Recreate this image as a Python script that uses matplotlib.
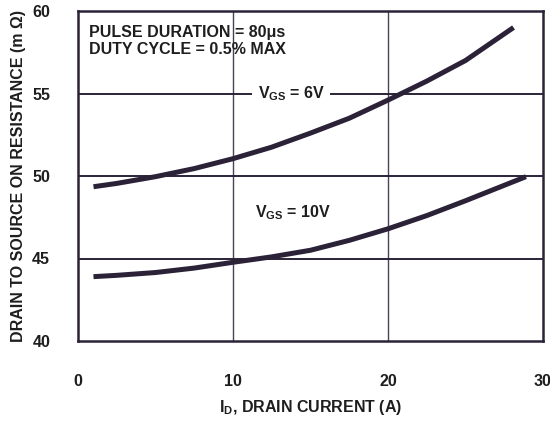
import matplotlib
matplotlib.use('Agg')
import matplotlib.pyplot as plt

plt.rcParams['font.family'] = ['Liberation Sans', 'DejaVu Sans']
plt.rcParams['font.weight'] = 'bold'
plt.rcParams['axes.labelweight'] = 'bold'
plt.rcParams['mathtext.fontset'] = 'custom'
plt.rcParams['mathtext.bf'] = 'Liberation Sans:bold'
plt.rcParams['mathtext.rm'] = 'Liberation Sans:bold'
plt.rcParams['mathtext.default'] = 'bf'

# drain current (A) and rds(on) (mOhm)
id_6v = [1, 2.5, 5, 7.5, 10, 12.5, 15, 17.5, 20, 22.5, 25, 28.1]
rds_6v = [49.35, 49.55, 49.96, 50.45, 51.05, 51.75, 52.6, 53.5, 54.6, 55.75, 57.0, 59.0]
id_10v = [1, 2.5, 5, 7.5, 10, 12.5, 15, 17.5, 20, 22.5, 25, 28.9]
rds_10v = [43.9, 43.98, 44.15, 44.42, 44.77, 45.1, 45.5, 46.1, 46.8, 47.6, 48.5, 49.96]

x_ticks = [0, 10, 20, 30]
y_ticks = [40, 45, 50, 55, 60]

ink = '#2b2238'
txt = '#1e1e1e'
fs = 11.5

fig = plt.figure(figsize=(5.5, 4.22), dpi=100)
ax = fig.add_axes([78 / 550, 1 - 341 / 422, 465 / 550, 330 / 422])

ax.set_xlim(0, 30)
ax.set_ylim(40, 60)

# grid
for x in [10, 20]:
    ax.axvline(x, color='#4a4258', lw=1.0, zorder=1)
for y in [45, 50, 55]:
    ax.axhline(y, color=ink, lw=1.4, zorder=1)

ax.plot(id_6v, rds_6v, color=ink, lw=3.6, solid_capstyle='butt', zorder=3)
ax.plot(id_10v, rds_10v, color=ink, lw=3.6, solid_capstyle='butt', zorder=3)

for s in ax.spines.values():
    s.set_color(ink)
    s.set_linewidth(1.8)

ax.set_xticks(x_ticks)
ax.set_yticks(y_ticks)
ax.tick_params(length=0, labelsize=fs, colors=txt)
ax.tick_params(axis='x', pad=24)
ax.tick_params(axis='y', pad=20)

ax.set_xlabel('I$_D$, DRAIN CURRENT (A)', fontsize=fs, color=txt, va='center')
ax.set_ylabel('DRAIN TO SOURCE ON RESISTANCE (m \u03a9)', fontsize=fs, color=txt, va='center')
ax.xaxis.set_label_coords(0.5, -0.203)
ax.yaxis.set_label_coords(-0.129, 0.5)

ax.text(0.7, 59.15, 'PULSE DURATION = 80\u03bcs\nDUTY CYCLE = 0.5% MAX',
        fontsize=fs, color=txt, va='top', ha='left', linespacing=1.2, zorder=4)

box = dict(boxstyle='square,pad=0.35', fc='white', ec='none')
ax.text(13.75, 55.0, 'V$_{GS}$ = 6V', fontsize=fs, color=txt,
        ha='center', va='center', bbox=box, zorder=2)
ax.text(13.9, 47.76, 'V$_{GS}$ = 10V', fontsize=fs, color=txt,
        ha='center', va='center', bbox=box, zorder=2)

fig.savefig('out.png', dpi=100)
